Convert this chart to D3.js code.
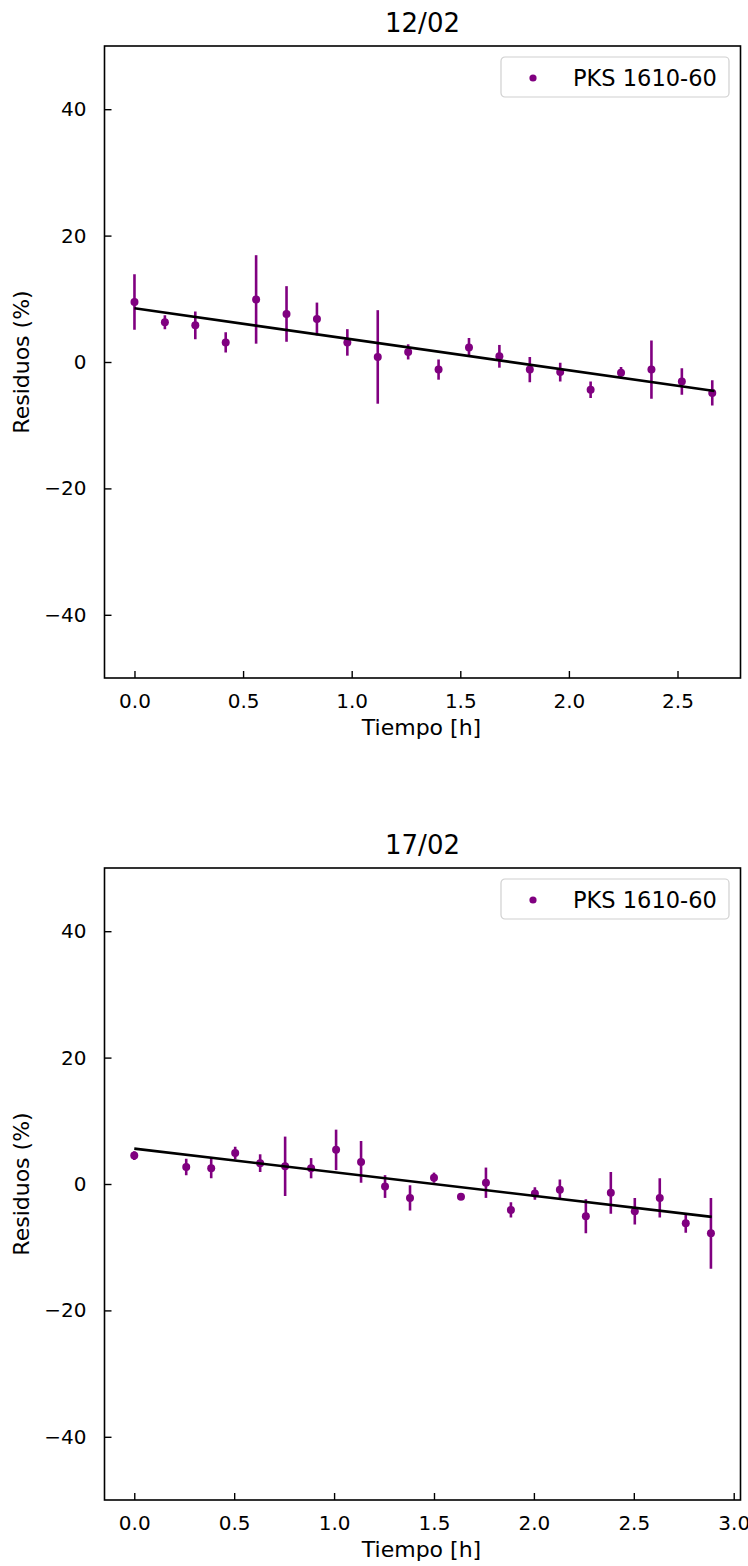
<!DOCTYPE html>
<html>
<head>
<meta charset="utf-8">
<script src="https://cdn.jsdelivr.net/npm/d3@7"></script>
<style>
  body { margin: 0; background: #fff; }
  text { font-family: "DejaVu Sans", sans-serif; fill: #000; }
</style>
</head>
<body>
<div id="chart"></div>
<script>
// ---- data ----
var titles = ["12/02", "17/02"]
var seriesName = "PKS 1610-60"

// 12/02
var time1 = [0.00, 0.14, 0.28, 0.42, 0.56, 0.70, 0.84, 0.98, 1.12, 1.26,
             1.40, 1.54, 1.68, 1.82, 1.96, 2.10, 2.24, 2.38, 2.52, 2.66]
var resid1 = [9.5, 6.3, 5.8, 3.1, 9.9, 7.6, 6.8, 3.1, 0.8, 1.6,
              -1.2, 2.3, 0.9, -1.2, -1.6, -4.4, -1.7, -1.2, -3.1, -4.9]
var err1 = [4.4, 1.1, 2.2, 1.6, 7.0, 4.4, 2.6, 2.1, 7.4, 1.2,
            1.6, 1.5, 1.8, 2.0, 1.5, 1.3, 0.9, 4.6, 2.1, 2.0]
var fitX1 = [0.00, 2.67]
var fitY1 = [8.5, -4.6]
var xTicks1 = [0.0, 0.5, 1.0, 1.5, 2.0, 2.5]

// 17/02
var time2 = [0.00, 0.26, 0.385, 0.505, 0.63, 0.755, 0.885, 1.01, 1.135, 1.255, 1.38,
             1.50, 1.635, 1.76, 1.885, 2.005, 2.13, 2.26, 2.385, 2.505, 2.63, 2.76, 2.886]
var resid2 = [4.5, 2.7, 2.5, 4.9, 3.3, 2.8, 2.5, 5.4, 3.5, -0.4, -2.2,
              1.0, -2.0, 0.2, -4.1, -1.5, -0.9, -5.1, -1.4, -4.3, -2.2, -6.2, -7.8]
var err2 = [0.7, 1.3, 1.6, 1.0, 1.4, 4.7, 1.6, 3.2, 3.3, 1.8, 2.0,
            0.8, 0.3, 2.4, 1.2, 1.0, 1.6, 2.7, 3.3, 2.1, 3.1, 1.5, 5.6]
var fitX2 = [0.00, 2.89]
var fitY2 = [5.6, -5.2]
var xTicks2 = [0.0, 0.5, 1.0, 1.5, 2.0, 2.5, 3.0]

var yTicks = [-40, -20, 0, 20, 40]
var xLabel = "Tiempo [h]"
var yLabel = "Residuos (%)"

var color = "purple"

var svg = d3.select("#chart").append("svg")
    .attr("width", 748)
    .attr("height", 1566)

function panel(top, title, t, r, e, fx, fy, xticks, xdom) {
    var margin = {left: 104.5, right: 740.5}
    var height = 632

    var x = d3.scaleLinear().domain(xdom).range([margin.left, margin.right])
    var y = d3.scaleLinear().domain([-50, 50]).range([top + height, top])

    var g = svg.append("g")

    // title
    g.append("text")
        .attr("x", (margin.left + margin.right) / 2)
        .attr("y", top - 14)
        .attr("text-anchor", "middle")
        .style("font-size", "26px")
        .text(title)

    // clip
    var clipId = "clip" + Math.round(top)
    svg.append("clipPath").attr("id", clipId)
      .append("rect")
        .attr("x", margin.left).attr("y", top)
        .attr("width", margin.right - margin.left).attr("height", height)

    var plot = g.append("g").attr("clip-path", "url(#" + clipId + ")")

    var pts = t.map(function(d, i) { return {t: d, r: r[i], e: e[i]} })

    // error bars
    plot.selectAll(".err")
      .data(pts)
      .enter().append("line")
        .attr("x1", function(d) { return x(d.t) })
        .attr("x2", function(d) { return x(d.t) })
        .attr("y1", function(d) { return y(d.r - d.e) })
        .attr("y2", function(d) { return y(d.r + d.e) })
        .attr("stroke", color)
        .attr("stroke-width", 2.6)

    // points
    plot.selectAll(".dot")
      .data(pts)
      .enter().append("circle")
        .attr("cx", function(d) { return x(d.t) })
        .attr("cy", function(d) { return y(d.r) })
        .attr("r", 4)
        .attr("fill", color)

    // fit line
    var line = d3.line()
        .x(function(d) { return x(d[0]) })
        .y(function(d) { return y(d[1]) })
    plot.append("path")
        .datum(fx.map(function(d, i) { return [d, fy[i]] }))
        .attr("d", line)
        .attr("fill", "none")
        .attr("stroke", "#000")
        .attr("stroke-width", 2.6)

    // axes, ticks pointing in
    var xAxis = g.append("g")
        .attr("transform", "translate(0," + (top + height) + ")")
        .call(d3.axisBottom(x).tickValues(xticks).tickSizeInner(-7).tickSizeOuter(0)
            .tickPadding(16).tickFormat(d3.format(".1f")))
    var yAxis = g.append("g")
        .attr("transform", "translate(" + margin.left + ",0)")
        .call(d3.axisLeft(y).tickValues(yTicks).tickSizeInner(-7).tickSizeOuter(0)
            .tickPadding(18).tickFormat(function(d) { return d < 0 ? "\u2212" + (-d) : d }))

    ;[xAxis, yAxis].forEach(function(a) {
        a.select(".domain").remove()
        a.selectAll("line").attr("stroke", "#000").attr("stroke-width", 1.4)
        a.selectAll("text").style("font-size", "20px").attr("fill", "#000")
            .style("font-family", "DejaVu Sans, sans-serif")
    })

    // frame
    g.append("rect")
        .attr("x", margin.left).attr("y", top)
        .attr("width", margin.right - margin.left).attr("height", height)
        .attr("fill", "none")
        .attr("stroke", "#000")
        .attr("stroke-width", 1.6)

    // axis labels
    g.append("text")
        .attr("x", x((xdom[0] + xdom[1]) / 2) - 1)
        .attr("y", top + height + 57)
        .attr("text-anchor", "middle")
        .style("font-size", "22px")
        .text(xLabel)

    g.append("text")
        .attr("transform", "translate(29," + (top + height / 2) + ") rotate(-90)")
        .attr("text-anchor", "middle")
        .style("font-size", "22px")
        .text(yLabel)

    // legend
    var lg = g.append("g").attr("transform", "translate(501," + (top + 11) + ")")
    lg.append("rect")
        .attr("width", 228).attr("height", 40)
        .attr("rx", 4)
        .attr("fill", "#fff").attr("fill-opacity", 0.8)
        .attr("stroke", "#d0d0d0").attr("stroke-width", 1.2)
    lg.append("circle")
        .attr("cx", 32).attr("cy", 21).attr("r", 3.6)
        .attr("fill", color)
    lg.append("text")
        .attr("x", 72).attr("y", 29)
        .style("font-size", "22.5px")
        .attr("fill", "#222")
        .text(seriesName)
}

panel(46, titles[0], time1, resid1, err1, fitX1, fitY1, xTicks1, [-0.138, 2.79])
panel(868, titles[1], time2, resid2, err2, fitX2, fitY2, xTicks2, [-0.149, 3.034])
</script>
</body>
</html>
